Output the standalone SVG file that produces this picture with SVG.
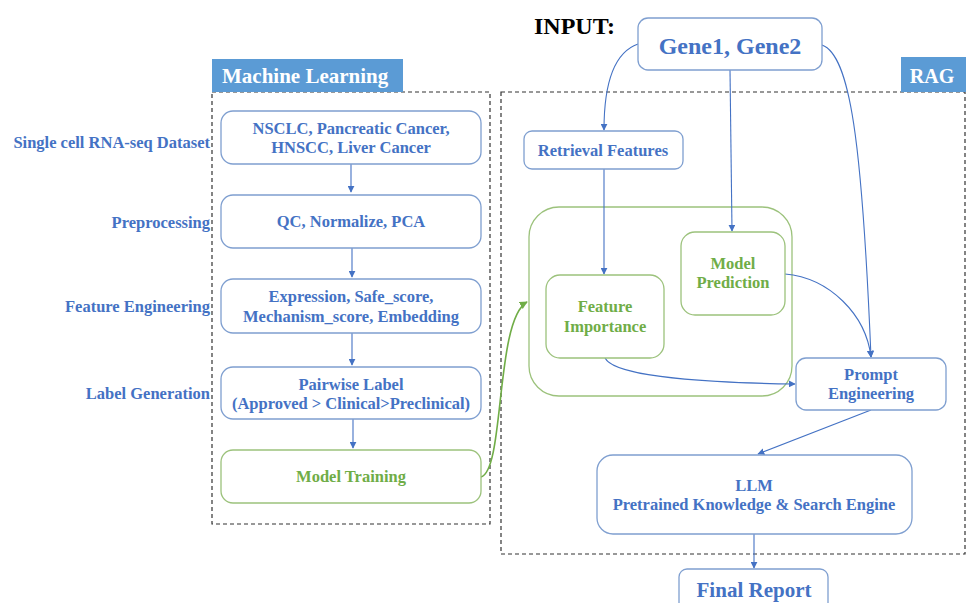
<svg xmlns="http://www.w3.org/2000/svg" width="966" height="603" viewBox="0 0 966 603">
<defs>
<style>
text{font-family:"Liberation Serif","Times New Roman",serif;font-weight:bold}
.b{fill:#4472c4}
.g{fill:#70ad47}
.box{fill:#fff;stroke:#7f9fd0;stroke-width:1.3}
.gbox{fill:#fff;stroke:#9cc27c;stroke-width:1.3}
.gframe{fill:none;stroke:#9cc27c;stroke-width:1.3}
.dash{fill:none;stroke:#333;stroke-width:1.2;stroke-dasharray:4 3}
.c{fill:none;stroke:#4472c4;stroke-width:1.1}
.cg{fill:none;stroke:#70ad47;stroke-width:1.6}
.t15{font-size:16.5px}
.lab{font-size:16.5px;text-anchor:end}
.mid{text-anchor:middle}
</style>
<marker id="a" viewBox="0 0 10 10" refX="9" refY="5" markerWidth="7" markerHeight="7" markerUnits="userSpaceOnUse" orient="auto"><path d="M0,0L10,5L0,10z" fill="#4472c4"/></marker>
<marker id="ag" viewBox="0 0 10 10" refX="9" refY="5" markerWidth="8" markerHeight="8" markerUnits="userSpaceOnUse" orient="auto"><path d="M0,0L10,5L0,10z" fill="#70ad47"/></marker>
</defs>
<rect width="966" height="603" fill="#fff"/>

<g id="ml-container">
<rect class="dash" x="212" y="92" width="278" height="432"/>
<rect x="212" y="59" width="191" height="33" fill="#5b9bd5"/>
<text x="222" y="83" font-size="21" fill="#fff">Machine Learning</text>
</g>
<g id="rag-container">
<rect class="dash" x="501" y="92" width="464" height="462"/>
<rect x="901" y="57" width="65" height="35" fill="#5b9bd5"/>
<text x="932" y="83" font-size="20" fill="#fff" class="mid">RAG</text>
</g>

<g id="stage-labels">
<text class="b lab" x="210" y="148">Single cell RNA-seq Dataset</text>
<text class="b lab" x="210" y="228">Preprocessing</text>
<text class="b lab" x="210" y="312">Feature Engineering</text>
<text class="b lab" x="210" y="399">Label Generation</text>
</g>

<g id="input-label"><text x="534" y="34" font-size="24" fill="#000">INPUT:</text></g>

<g id="n-model-group"><rect class="gframe" x="529" y="207" width="263" height="189" rx="30"/></g>

<g id="connectors">
<path class="c" d="M351,164V192" marker-end="url(#a)"/>
<path class="c" d="M352,248V277" marker-end="url(#a)"/>
<path class="c" d="M352,333V365" marker-end="url(#a)"/>
<path class="c" d="M353,419V448" marker-end="url(#a)"/>
<path class="c" d="M638,44C615,52 604,80 604,130" marker-end="url(#a)"/>
<path class="c" d="M730,70L732,231" marker-end="url(#a)"/>
<path class="c" d="M822,45C850,55 862,140 871,357" marker-end="url(#a)"/>
<path class="c" d="M604,169V274" marker-end="url(#a)"/>
<path class="c" d="M785,274C830,278 866,315 871,357" marker-end="url(#a)"/>
<path class="c" d="M605,358C615,378 720,383 795,384" marker-end="url(#a)"/>
<path class="c" d="M871,410L758,454" marker-end="url(#a)"/>
<path class="c" d="M754,534V568" marker-end="url(#a)"/>
<path class="cg" d="M481,477C505,470 495,320 527,302" marker-end="url(#ag)"/>
</g>

<g id="n-dataset"><rect class="box" x="221" y="111" width="260" height="53" rx="12"/>
<text class="b t15 mid" x="351" y="134">NSCLC, Pancreatic Cancer,</text>
<text class="b t15 mid" x="351" y="153">HNSCC, Liver Cancer</text></g>
<g id="n-preproc"><rect class="box" x="221" y="195" width="260" height="53" rx="12"/>
<text class="b t15 mid" x="351" y="227">QC, Normalize, PCA</text></g>
<g id="n-feature"><rect class="box" x="221" y="279" width="260" height="54" rx="12"/>
<text class="b t15 mid" x="351" y="302">Expression, Safe_score,</text>
<text class="b t15 mid" x="351" y="322">Mechanism_score, Embedding</text></g>
<g id="n-label"><rect class="box" x="221" y="367" width="260" height="52" rx="12"/>
<text class="b t15 mid" x="351" y="390">Pairwise Label</text>
<text class="b t15 mid" x="351" y="409">(Approved &gt; Clinical&gt;Preclinical)</text></g>
<g id="n-training"><rect class="gbox" x="221" y="450" width="260" height="53" rx="12"/>
<text class="g t15 mid" x="351" y="482">Model Training</text></g>

<g id="n-gene"><rect class="box" x="638" y="18" width="184" height="52" rx="10"/>
<text class="b mid" x="730" y="54" font-size="24">Gene1, Gene2</text></g>
<g id="n-retrieval"><rect class="box" x="524" y="131" width="159" height="38" rx="8"/>
<text class="b mid" x="603" y="156" font-size="16.5">Retrieval Features</text></g>
<g id="n-importance"><rect class="gbox" x="546" y="275" width="118" height="83" rx="14"/>
<text class="g t15 mid" x="605" y="312">Feature</text>
<text class="g t15 mid" x="605" y="332">Importance</text></g>
<g id="n-prediction"><rect class="gbox" x="681" y="232" width="104" height="83" rx="14"/>
<text class="g t15 mid" x="733" y="269">Model</text>
<text class="g t15 mid" x="733" y="288">Prediction</text></g>
<g id="n-prompt"><rect class="box" x="796" y="358" width="150" height="52" rx="10"/>
<text class="b t15 mid" x="871" y="380">Prompt</text>
<text class="b t15 mid" x="871" y="399">Engineering</text></g>
<g id="n-llm"><rect class="box" x="597" y="455" width="315" height="79" rx="16"/>
<text class="b t15 mid" x="754" y="491">LLM</text>
<text class="b t15 mid" x="754" y="510">Pretrained Knowledge &amp; Search Engine</text></g>
<g id="n-report"><rect class="box" x="679" y="569" width="149" height="50" rx="8"/>
<text class="b mid" x="754" y="597" font-size="21">Final Report</text></g>
</svg>
